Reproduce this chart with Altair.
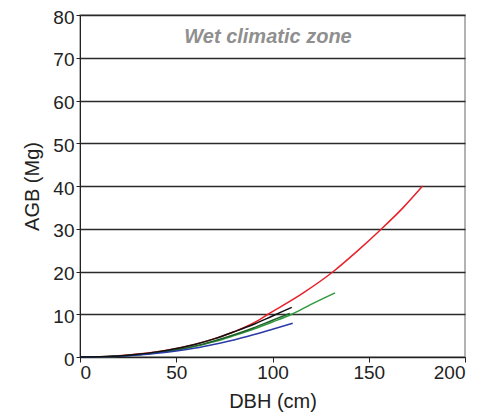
import altair as alt
import pandas as pd

red_dbh = [0, 10, 20, 30, 40, 50, 60, 70, 80, 90, 97.7, 116, 131.6, 144.6, 156.7, 168, 178]
red_agb = [0, 0.05, 0.3, 0.7, 1.25, 2.0, 3.0, 4.3, 5.9, 7.9, 10.0, 15.0, 20.0, 25.0, 30.0, 35.0, 40.0]

green_dbh = [0, 10, 20, 30, 40, 50, 60, 70, 80, 90, 100, 110, 120, 132.5]
green_agb = [0, 0.03, 0.2, 0.5, 1.0, 1.6, 2.5, 3.6, 5.0, 6.5, 8.2, 10.0, 12.3, 15.0]

black_dbh = [0, 10, 20, 30, 40, 50, 60, 70, 80, 90, 100, 110]
black_agb = [0, 0.04, 0.25, 0.65, 1.2, 2.0, 3.0, 4.3, 5.9, 7.6, 9.6, 11.6]

dkgreen_dbh = [0, 10, 20, 30, 40, 50, 60, 70, 80, 90, 100, 109]
dkgreen_agb = [0, 0.04, 0.22, 0.55, 1.05, 1.7, 2.6, 3.8, 5.2, 6.8, 8.6, 10.2]

blue_dbh = [0, 10, 20, 30, 40, 50, 60, 70, 80, 90, 100, 110.5]
blue_agb = [0, 0.03, 0.18, 0.45, 0.85, 1.4, 2.1, 3.0, 4.0, 5.2, 6.5, 7.9]

series = [
    ("red", red_dbh, red_agb, "#e8202a"),
    ("green", green_dbh, green_agb, "#2e9a3c"),
    ("dkgreen", dkgreen_dbh, dkgreen_agb, "#1f5f2a"),
    ("blue", blue_dbh, blue_agb, "#2a3aa8"),
    ("black", black_dbh, black_agb, "#111111"),
]

rows = []
for name, xs, ys, _ in series:
    for i, (x, y) in enumerate(zip(xs, ys)):
        rows.append({"series": name, "DBH": x, "AGB": y, "order": i})
df = pd.DataFrame(rows)

names = [s[0] for s in series]
colors = [s[3] for s in series]

font = "Liberation Sans"

lines = alt.Chart(df).mark_line(strokeWidth=1.5, interpolate="monotone").encode(
    x=alt.X("DBH:Q", title="DBH (cm)", scale=alt.Scale(domain=[0, 200], nice=False),
            axis=alt.Axis(values=[0, 50, 100, 150, 200], grid=False, tickSize=5,
                          domainColor="#222", tickColor="#222", labelPadding=1,
                          titlePadding=9)),
    y=alt.Y("AGB:Q", title="AGB (Mg)", scale=alt.Scale(domain=[0, 80], nice=False),
            axis=alt.Axis(values=[0, 10, 20, 30, 40, 50, 60, 70, 80], grid=True,
                          gridColor="#2a2a2a", gridWidth=1.6, tickSize=4,
                          domainColor="#222", tickColor="#222", labelPadding=2,
                          labelOffset=2, titlePadding=10)),
    color=alt.Color("series:N", scale=alt.Scale(domain=names, range=colors), legend=None),
    order="order:Q",
    detail="series:N",
)

label = alt.Chart(pd.DataFrame({"t": ["Wet climatic zone"]})).mark_text(
    font=font, fontSize=20, fontStyle="italic", fontWeight="bold", color="#8f8f8f"
).encode(x=alt.value(188), y=alt.value(22), text="t:N")

chart = alt.layer(lines, label).properties(
    width=385, height=342,
    autosize=alt.AutoSizeParams(type="none"),
    padding={"left": 72, "top": 7, "right": 12, "bottom": 55},
).configure_view(
    stroke="#9a9a9a", strokeWidth=1.5
).configure_axis(
    labelFont=font, titleFont=font, labelFontSize=19, titleFontSize=20,
    labelColor="#222", titleColor="#222", titleFontWeight="normal"
)

chart.save("out.html", embed_options={"renderer": "svg", "actions": False})
